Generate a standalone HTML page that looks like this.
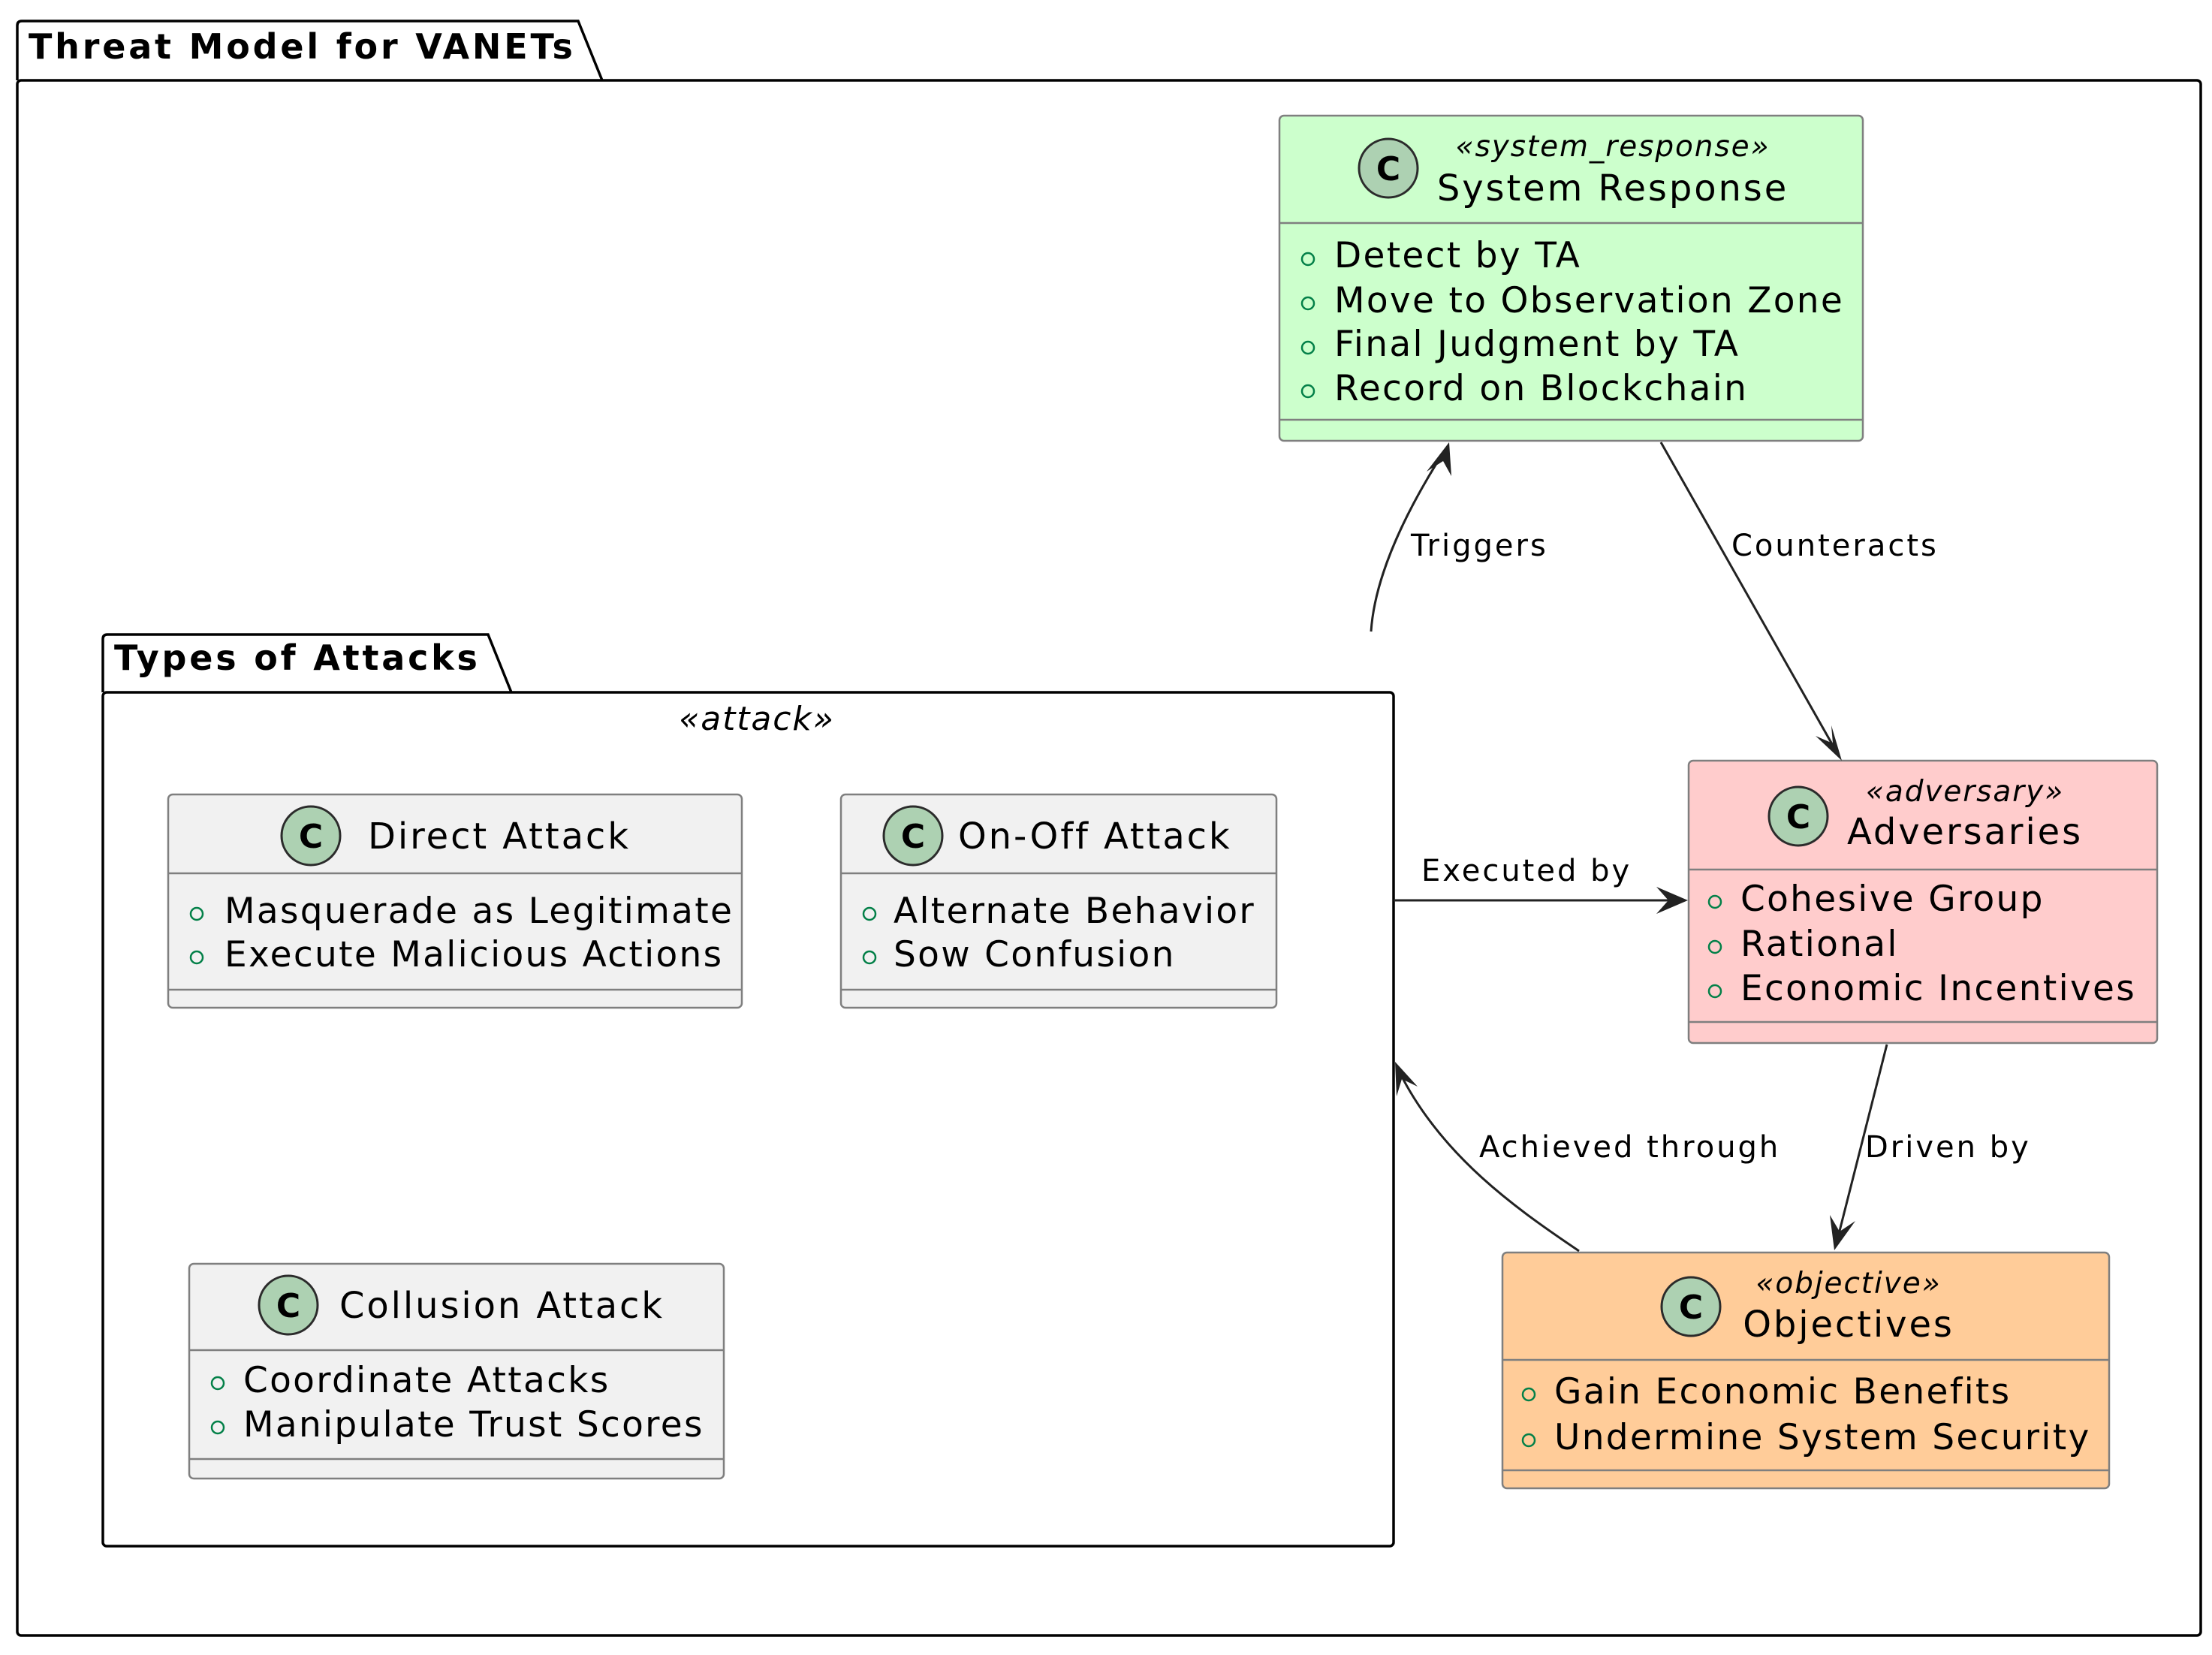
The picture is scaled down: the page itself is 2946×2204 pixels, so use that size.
<!DOCTYPE html>
<html><head><meta charset="utf-8"><style>
html,body{margin:0;padding:0;background:#fff;}
svg{display:block;}
text{font-family:"DejaVu Sans","Liberation Sans",sans-serif;fill:#000;}
.it{font-style:italic;font-size:39px;letter-spacing:1.9px;}
.nm{font-size:48px;letter-spacing:2.9px;}
.li{font-size:47px;letter-spacing:2.3px;}
.lb{font-size:40px;letter-spacing:3px;}
.mk{fill:none;stroke:#038048;stroke-width:2.5;}
.box{stroke:#7f7f7f;stroke-width:2.5;}
.sep{stroke:#7f7f7f;stroke-width:2.5;}
.cc{fill:#ADD1B2;stroke:#2b2b2b;stroke-width:3;}
.ct{font-size:44px;font-weight:bold;}
.ln{fill:none;stroke:#222;stroke-width:3;}
.ah{fill:#222;}
.tt{font-size:46px;font-weight:bold;letter-spacing:3.8px;}
</style></head><body>
<svg width="2946" height="2204" viewBox="0 0 2946 2204" xmlns="http://www.w3.org/2000/svg">
<path d="M23,107 L23,34 Q23,28 29,28 L770,28 L802,107" fill="none" stroke="#000" stroke-width="3.5"/>
<rect x="23" y="107" width="2908" height="2071" rx="5" fill="none" stroke="#000" stroke-width="3.5"/>
<text x="38" y="78" class="tt">Threat Model for VANETs</text>

<path d="M137,922 L137,851 Q137,845 143,845 L650,845 L681,922" fill="none" stroke="#000" stroke-width="3.5"/>
<rect x="137" y="922" width="1719" height="1137" rx="5" fill="none" stroke="#000" stroke-width="3.5"/>
<text x="152" y="892" class="tt">Types of Attacks</text>
<text x="1008" y="972" class="it" text-anchor="middle" style="font-size:44px">«attack»</text>

<rect x="1704" y="154" width="777" height="433" rx="6" fill="#CCFFCC" class="box"/>
<line x1="1704" y1="297" x2="2481" y2="297" class="sep"/>
<line x1="1704" y1="559" x2="2481" y2="559" class="sep"/>
<circle cx="1849" cy="224" r="39" class="cc"/><text x="1849" y="240" class="ct" text-anchor="middle">C</text>
<text x="2148" y="208" class="it" text-anchor="middle">«system_response»</text>
<text x="2148" y="267" class="nm" text-anchor="middle">System Response</text>
<circle cx="1742" cy="345" r="8" class="mk"/><text x="1777" y="356" class="li">Detect by TA</text>
<circle cx="1742" cy="404" r="8" class="mk"/><text x="1777" y="416" class="li">Move to Observation Zone</text>
<circle cx="1742" cy="463" r="8" class="mk"/><text x="1777" y="474" class="li">Final Judgment by TA</text>
<circle cx="1742" cy="521" r="8" class="mk"/><text x="1777" y="533" class="li">Record on Blockchain</text>

<rect x="224" y="1058" width="764" height="284" rx="6" fill="#F1F1F1" class="box"/>
<line x1="224" y1="1163" x2="988" y2="1163" class="sep"/>
<line x1="224" y1="1318" x2="988" y2="1318" class="sep"/>
<circle cx="414" cy="1113" r="39" class="cc"/><text x="414" y="1129" class="ct" text-anchor="middle">C</text>
<text x="490" y="1130" class="nm">Direct Attack</text>
<circle cx="262" cy="1217" r="8" class="mk"/><text x="299" y="1229" class="li">Masquerade as Legitimate</text>
<circle cx="262" cy="1275" r="8" class="mk"/><text x="299" y="1287" class="li">Execute Malicious Actions</text>

<rect x="1120" y="1058" width="580" height="284" rx="6" fill="#F1F1F1" class="box"/>
<line x1="1120" y1="1163" x2="1700" y2="1163" class="sep"/>
<line x1="1120" y1="1318" x2="1700" y2="1318" class="sep"/>
<circle cx="1216" cy="1113" r="39" class="cc"/><text x="1216" y="1129" class="ct" text-anchor="middle">C</text>
<text x="1276" y="1130" class="nm">On-Off Attack</text>
<circle cx="1158" cy="1217" r="8" class="mk"/><text x="1190" y="1229" class="li">Alternate Behavior</text>
<circle cx="1158" cy="1275" r="8" class="mk"/><text x="1190" y="1287" class="li">Sow Confusion</text>

<rect x="252" y="1683" width="712" height="286" rx="6" fill="#F1F1F1" class="box"/>
<line x1="252" y1="1798" x2="964" y2="1798" class="sep"/>
<line x1="252" y1="1943" x2="964" y2="1943" class="sep"/>
<circle cx="384" cy="1738" r="39" class="cc"/><text x="384" y="1754" class="ct" text-anchor="middle">C</text>
<text x="452" y="1755" class="nm">Collusion Attack</text>
<circle cx="290" cy="1842" r="8" class="mk"/><text x="324" y="1854" class="li">Coordinate Attacks</text>
<circle cx="290" cy="1901" r="8" class="mk"/><text x="324" y="1913" class="li">Manipulate Trust Scores</text>

<rect x="2249" y="1013" width="624" height="376" rx="6" fill="#FFCCCC" class="box"/>
<line x1="2249" y1="1158" x2="2873" y2="1158" class="sep"/>
<line x1="2249" y1="1361" x2="2873" y2="1361" class="sep"/>
<circle cx="2395" cy="1087" r="39" class="cc"/><text x="2395" y="1103" class="ct" text-anchor="middle">C</text>
<text x="2617" y="1067" class="it" text-anchor="middle">«adversary»</text>
<text x="2617" y="1124" class="nm" text-anchor="middle">Adversaries</text>
<circle cx="2284" cy="1201" r="8" class="mk"/><text x="2318" y="1213" class="li">Cohesive Group</text>
<circle cx="2284" cy="1261" r="8" class="mk"/><text x="2318" y="1273" class="li">Rational</text>
<circle cx="2284" cy="1320" r="8" class="mk"/><text x="2318" y="1332" class="li">Economic Incentives</text>

<rect x="2001" y="1668" width="808" height="314" rx="6" fill="#FFCC99" class="box"/>
<line x1="2001" y1="1811" x2="2809" y2="1811" class="sep"/>
<line x1="2001" y1="1958" x2="2809" y2="1958" class="sep"/>
<circle cx="2252" cy="1740" r="39" class="cc"/><text x="2252" y="1756" class="ct" text-anchor="middle">C</text>
<text x="2462" y="1722" class="it" text-anchor="middle">«objective»</text>
<text x="2462" y="1780" class="nm" text-anchor="middle">Objectives</text>
<circle cx="2036" cy="1857" r="8" class="mk"/><text x="2070" y="1869" class="li">Gain Economic Benefits</text>
<circle cx="2036" cy="1918" r="8" class="mk"/><text x="2070" y="1930" class="li">Undermine System Security</text>

<path d="M1826,841 C1830,780 1860,700 1924,600" class="ln"/>
<path d="M1930,589 L1900,628 L1922,614 L1933,634 Z" class="ah"/>
<text x="1879" y="740" class="lb">Triggers</text>

<path d="M2212,589 L2448,1005" class="ln"/>
<path d="M2453,1013 L2439,966 L2441,990 L2418,980 Z" class="ah"/>
<text x="2306" y="740" class="lb">Counteracts</text>

<path d="M1856,1199 L2240,1199" class="ln"/>
<path d="M2248,1199 L2206,1181 L2222,1199 L2206,1217 Z" class="ah"/>
<text x="1893" y="1173" class="lb">Executed by</text>

<path d="M2513,1391 L2446,1655" class="ln"/>
<path d="M2443,1665 L2471,1626 L2450,1640 L2437,1618 Z" class="ah"/>
<text x="2484" y="1541" class="lb">Driven by</text>

<path d="M2103,1666 C2020,1610 1920,1540 1864,1428" class="ln"/>
<path d="M1858,1414 L1860,1460 L1867,1437 L1888,1447 Z" class="ah"/>
<text x="1970" y="1541" class="lb">Achieved through</text>
</svg>
</body></html>
